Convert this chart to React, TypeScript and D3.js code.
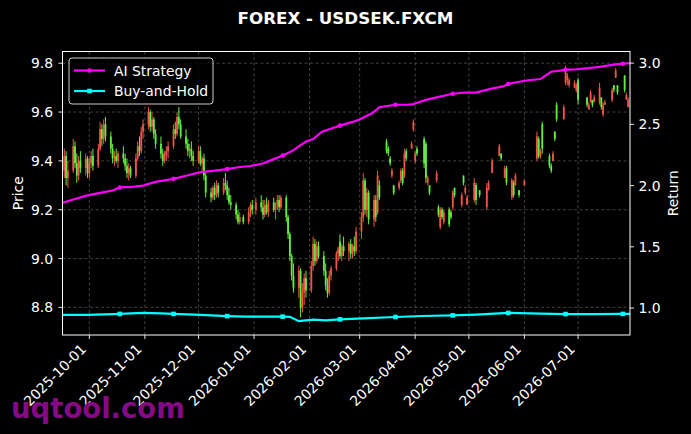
import React from "react";
import * as d3 from "d3";

type Candle = [string, number, number, number, number]; // date, open, high, low, close

const candlesSep: Candle[] = [
  ["2025-09-17", 9.36, 9.45, 9.33, 9.42],
  ["2025-09-18", 9.42, 9.44, 9.3, 9.33],
  ["2025-09-19", 9.33, 9.4, 9.29, 9.36],
  ["2025-09-22", 9.36, 9.49, 9.35, 9.46],
  ["2025-09-23", 9.46, 9.48, 9.37, 9.39],
  ["2025-09-24", 9.39, 9.43, 9.31, 9.34],
  ["2025-09-25", 9.34, 9.42, 9.32, 9.4],
  ["2025-09-26", 9.4, 9.44, 9.35, 9.37],
  ["2025-09-29", 9.37, 9.43, 9.34, 9.41],
  ["2025-09-30", 9.41, 9.42, 9.33, 9.35],
];
const candlesOct: Candle[] = [
  ["2025-10-01", 9.35, 9.41, 9.33, 9.39],
  ["2025-10-02", 9.39, 9.44, 9.37, 9.42],
  ["2025-10-03", 9.42, 9.45, 9.36, 9.38],
  ["2025-10-06", 9.38, 9.47, 9.37, 9.45],
  ["2025-10-07", 9.45, 9.56, 9.44, 9.53],
  ["2025-10-08", 9.53, 9.55, 9.46, 9.49],
  ["2025-10-09", 9.49, 9.57, 9.47, 9.55],
  ["2025-10-10", 9.55, 9.58, 9.48, 9.5],
  ["2025-10-13", 9.5, 9.52, 9.43, 9.45],
  ["2025-10-14", 9.45, 9.47, 9.39, 9.41],
  ["2025-10-15", 9.41, 9.44, 9.38, 9.42],
  ["2025-10-16", 9.42, 9.45, 9.39, 9.4],
  ["2025-10-17", 9.4, 9.44, 9.37, 9.43],
  ["2025-10-20", 9.43, 9.46, 9.39, 9.41],
  ["2025-10-21", 9.41, 9.43, 9.36, 9.38],
  ["2025-10-22", 9.38, 9.41, 9.33, 9.35],
  ["2025-10-23", 9.35, 9.39, 9.32, 9.37],
  ["2025-10-24", 9.37, 9.38, 9.33, 9.34],
  ["2025-10-27", 9.34, 9.43, 9.33, 9.41],
  ["2025-10-28", 9.41, 9.48, 9.4, 9.46],
  ["2025-10-29", 9.46, 9.5, 9.42, 9.44],
  ["2025-10-30", 9.44, 9.54, 9.43, 9.52],
  ["2025-10-31", 9.52, 9.57, 9.49, 9.55],
];
const candlesNov: Candle[] = [
  ["2025-11-03", 9.55, 9.62, 9.53, 9.6],
  ["2025-11-04", 9.6, 9.61, 9.52, 9.54],
  ["2025-11-05", 9.54, 9.6, 9.52, 9.57],
  ["2025-11-06", 9.57, 9.58, 9.49, 9.51],
  ["2025-11-07", 9.51, 9.53, 9.45, 9.47],
  ["2025-11-10", 9.47, 9.5, 9.41, 9.43],
  ["2025-11-11", 9.43, 9.45, 9.38, 9.4],
  ["2025-11-12", 9.4, 9.44, 9.39, 9.42],
  ["2025-11-13", 9.42, 9.46, 9.4, 9.44],
  ["2025-11-14", 9.44, 9.48, 9.41, 9.46],
  ["2025-11-17", 9.46, 9.55, 9.45, 9.53],
  ["2025-11-18", 9.53, 9.56, 9.49, 9.51],
  ["2025-11-19", 9.51, 9.6, 9.5, 9.58],
  ["2025-11-20", 9.58, 9.62, 9.53, 9.55],
  ["2025-11-21", 9.55, 9.57, 9.49, 9.5],
  ["2025-11-24", 9.5, 9.53, 9.45, 9.47],
  ["2025-11-25", 9.47, 9.49, 9.42, 9.44],
  ["2025-11-26", 9.44, 9.47, 9.41, 9.45],
  ["2025-11-27", 9.45, 9.48, 9.4, 9.42],
  ["2025-11-28", 9.42, 9.44, 9.38, 9.4],
];
const candlesDec: Candle[] = [
  ["2025-12-01", 9.4, 9.46, 9.39, 9.44],
  ["2025-12-02", 9.44, 9.46, 9.38, 9.39],
  ["2025-12-03", 9.39, 9.42, 9.36, 9.41],
  ["2025-12-04", 9.41, 9.43, 9.32, 9.34],
  ["2025-12-05", 9.34, 9.35, 9.25, 9.27],
  ["2025-12-08", 9.27, 9.29, 9.23, 9.25],
  ["2025-12-09", 9.25, 9.3, 9.24, 9.29],
  ["2025-12-10", 9.29, 9.31, 9.24, 9.26],
  ["2025-12-11", 9.26, 9.32, 9.25, 9.3],
  ["2025-12-12", 9.3, 9.31, 9.25, 9.27],
  ["2025-12-15", 9.27, 9.33, 9.26, 9.31],
  ["2025-12-16", 9.31, 9.35, 9.28, 9.3],
  ["2025-12-17", 9.3, 9.32, 9.24, 9.26],
  ["2025-12-18", 9.26, 9.29, 9.22, 9.23],
  ["2025-12-19", 9.23, 9.26, 9.2, 9.22],
  ["2025-12-22", 9.22, 9.23, 9.16, 9.18],
  ["2025-12-23", 9.18, 9.2, 9.14, 9.15],
  ["2025-12-24", 9.15, 9.19, 9.14, 9.17],
  ["2025-12-26", 9.17, 9.18, 9.14, 9.15],
  ["2025-12-29", 9.15, 9.21, 9.14, 9.19],
  ["2025-12-30", 9.19, 9.23, 9.17, 9.22],
  ["2025-12-31", 9.22, 9.24, 9.18, 9.2],
];
const candlesJan: Candle[] = [
  ["2026-01-02", 9.2, 9.25, 9.18, 9.23],
  ["2026-01-05", 9.23, 9.26, 9.19, 9.21],
  ["2026-01-06", 9.21, 9.24, 9.16, 9.18],
  ["2026-01-07", 9.18, 9.24, 9.17, 9.22],
  ["2026-01-08", 9.22, 9.25, 9.18, 9.19],
  ["2026-01-09", 9.19, 9.24, 9.17, 9.23],
  ["2026-01-12", 9.23, 9.25, 9.19, 9.2],
  ["2026-01-13", 9.2, 9.23, 9.16, 9.22],
  ["2026-01-14", 9.22, 9.26, 9.2, 9.24],
  ["2026-01-15", 9.24, 9.26, 9.19, 9.21],
  ["2026-01-16", 9.21, 9.26, 9.2, 9.25],
  ["2026-01-19", 9.25, 9.26, 9.15, 9.17],
  ["2026-01-20", 9.17, 9.18, 9.08, 9.1],
  ["2026-01-21", 9.1, 9.11, 8.99, 9.01],
  ["2026-01-22", 9.01, 9.02, 8.91, 8.93],
  ["2026-01-23", 8.93, 8.98, 8.86, 8.88],
  ["2026-01-26", 8.88, 8.97, 8.84, 8.95],
  ["2026-01-27", 8.95, 8.96, 8.76, 8.8],
  ["2026-01-28", 8.8, 8.9, 8.78, 8.86],
  ["2026-01-29", 8.86, 8.94, 8.81, 8.92],
  ["2026-01-30", 8.92, 8.95, 8.84, 8.87],
];
const candlesFeb: Candle[] = [
  ["2026-02-02", 8.87, 8.99, 8.86, 8.97],
  ["2026-02-03", 8.97, 9.09, 8.95, 9.06],
  ["2026-02-04", 9.06, 9.08, 8.97, 8.99],
  ["2026-02-05", 8.99, 9.07, 8.98, 9.05],
  ["2026-02-06", 9.05, 9.07, 9.0, 9.01],
  ["2026-02-09", 9.01, 9.03, 8.93, 8.95],
  ["2026-02-10", 8.95, 8.98, 8.87, 8.89],
  ["2026-02-11", 8.89, 8.92, 8.84, 8.86],
  ["2026-02-12", 8.86, 8.95, 8.85, 8.93],
  ["2026-02-13", 8.93, 8.97, 8.91, 8.96],
  ["2026-02-16", 8.96, 9.03, 8.95, 9.02],
  ["2026-02-17", 9.02, 9.05, 8.99, 9.04],
  ["2026-02-18", 9.07, 9.1, 9.0, 9.01],
  ["2026-02-19", 9.01, 9.06, 8.99, 9.05],
  ["2026-02-20", 9.05, 9.09, 9.01, 9.03],
  ["2026-02-23", 9.03, 9.07, 8.99, 9.06],
  ["2026-02-24", 9.06, 9.08, 9.0, 9.02],
  ["2026-02-25", 9.02, 9.06, 9.0, 9.05],
  ["2026-02-26", 9.05, 9.09, 9.01, 9.03],
  ["2026-02-27", 9.03, 9.13, 9.02, 9.11],
];
const candlesMar: Candle[] = [
  ["2026-03-02", 9.11, 9.19, 9.08, 9.17],
  ["2026-03-03", 9.17, 9.35, 9.15, 9.32],
  ["2026-03-04", 9.32, 9.33, 9.18, 9.2],
  ["2026-03-05", 9.2, 9.29, 9.17, 9.27],
  ["2026-03-06", 9.27, 9.28, 9.14, 9.16],
  ["2026-03-09", 9.16, 9.26, 9.13, 9.24],
  ["2026-03-10", 9.24, 9.26, 9.15, 9.17],
  ["2026-03-11", 9.19, 9.36, 9.18, 9.34],
  ["2026-03-12", 9.3, 9.32, 9.24, 9.25],
  ["2026-03-16", 9.48, 9.49, 9.43, 9.44],
  ["2026-03-17", 9.45, 9.46, 9.42, 9.43],
  ["2026-03-18", 9.41, 9.42, 9.38, 9.39],
  ["2026-03-19", 9.34, 9.37, 9.33, 9.36],
  ["2026-03-20", 9.3, 9.3, 9.26, 9.27],
  ["2026-03-23", 9.29, 9.32, 9.28, 9.31],
  ["2026-03-24", 9.32, 9.37, 9.31, 9.36],
  ["2026-03-25", 9.36, 9.37, 9.3, 9.31],
  ["2026-03-26", 9.34, 9.45, 9.33, 9.43],
  ["2026-03-27", 9.44, 9.45, 9.4, 9.41],
  ["2026-03-30", 9.45, 9.48, 9.45, 9.47],
  ["2026-03-31", 9.53, 9.57, 9.52, 9.56],
];
const candlesApr: Candle[] = [
  ["2026-04-01", 9.4, 9.44, 9.39, 9.43],
  ["2026-04-02", 9.45, 9.46, 9.42, 9.43],
  ["2026-04-06", 9.49, 9.5, 9.37, 9.39],
  ["2026-04-07", 9.47, 9.48, 9.31, 9.33],
  ["2026-04-08", 9.31, 9.34, 9.3, 9.33],
  ["2026-04-09", 9.3, 9.3, 9.26, 9.27],
  ["2026-04-13", 9.32, 9.36, 9.31, 9.35],
  ["2026-04-14", 9.21, 9.22, 9.17, 9.18],
  ["2026-04-15", 9.13, 9.21, 9.12, 9.2],
  ["2026-04-16", 9.2, 9.21, 9.16, 9.17],
  ["2026-04-17", 9.15, 9.2, 9.14, 9.19],
  ["2026-04-20", 9.2, 9.21, 9.13, 9.14],
  ["2026-04-21", 9.19, 9.2, 9.16, 9.17],
  ["2026-04-22", 9.21, 9.28, 9.2, 9.27],
  ["2026-04-23", 9.29, 9.29, 9.25, 9.26],
  ["2026-04-27", 9.22, 9.27, 9.21, 9.26],
  ["2026-04-28", 9.34, 9.34, 9.3, 9.31],
  ["2026-04-29", 9.27, 9.3, 9.26, 9.29],
  ["2026-04-30", 9.22, 9.26, 9.22, 9.25],
];
const candlesMay: Candle[] = [
  ["2026-05-04", 9.24, 9.33, 9.23, 9.31],
  ["2026-05-05", 9.3, 9.31, 9.22, 9.24],
  ["2026-05-07", 9.28, 9.28, 9.25, 9.26],
  ["2026-05-11", 9.21, 9.31, 9.2, 9.29],
  ["2026-05-12", 9.28, 9.32, 9.28, 9.31],
  ["2026-05-14", 9.35, 9.41, 9.35, 9.4],
  ["2026-05-18", 9.42, 9.47, 9.42, 9.46],
  ["2026-05-19", 9.43, 9.43, 9.4, 9.41],
  ["2026-05-21", 9.33, 9.38, 9.33, 9.37],
  ["2026-05-22", 9.37, 9.38, 9.3, 9.31],
  ["2026-05-25", 9.25, 9.33, 9.24, 9.32],
  ["2026-05-26", 9.31, 9.32, 9.25, 9.26],
  ["2026-05-27", 9.3, 9.35, 9.3, 9.34],
  ["2026-05-29", 9.28, 9.28, 9.25, 9.26],
];
const candlesJun: Candle[] = [
  ["2026-06-01", 9.3, 9.32, 9.3, 9.32],
  ["2026-06-08", 9.41, 9.52, 9.4, 9.5],
  ["2026-06-09", 9.49, 9.5, 9.41, 9.42],
  ["2026-06-10", 9.42, 9.45, 9.41, 9.44],
  ["2026-06-11", 9.55, 9.56, 9.43, 9.45],
  ["2026-06-15", 9.42, 9.43, 9.37, 9.38],
  ["2026-06-16", 9.38, 9.39, 9.35, 9.36],
  ["2026-06-17", 9.4, 9.44, 9.4, 9.43],
  ["2026-06-18", 9.52, 9.52, 9.48, 9.49],
  ["2026-06-19", 9.63, 9.64, 9.56, 9.57],
  ["2026-06-23", 9.57, 9.63, 9.57, 9.62],
  ["2026-06-24", 9.72, 9.79, 9.71, 9.77],
  ["2026-06-25", 9.73, 9.76, 9.71, 9.75],
  ["2026-06-26", 9.71, 9.74, 9.7, 9.73],
  ["2026-06-29", 9.7, 9.73, 9.7, 9.72],
  ["2026-06-30", 9.69, 9.72, 9.68, 9.71],
];
const candlesJul: Candle[] = [
  ["2026-07-01", 9.73, 9.74, 9.63, 9.65],
  ["2026-07-06", 9.66, 9.66, 9.62, 9.63],
  ["2026-07-07", 9.61, 9.64, 9.61, 9.63],
  ["2026-07-08", 9.64, 9.69, 9.64, 9.68],
  ["2026-07-09", 9.65, 9.65, 9.62, 9.63],
  ["2026-07-10", 9.64, 9.67, 9.64, 9.66],
  ["2026-07-13", 9.64, 9.72, 9.63, 9.7],
  ["2026-07-14", 9.66, 9.66, 9.61, 9.62],
  ["2026-07-15", 9.59, 9.64, 9.58, 9.63],
  ["2026-07-16", 9.63, 9.65, 9.63, 9.64],
  ["2026-07-20", 9.65, 9.7, 9.64, 9.69],
  ["2026-07-21", 9.71, 9.71, 9.68, 9.69],
  ["2026-07-22", 9.74, 9.78, 9.74, 9.77],
  ["2026-07-23", 9.71, 9.71, 9.67, 9.68],
  ["2026-07-27", 9.75, 9.75, 9.68, 9.69],
  ["2026-07-28", 9.65, 9.68, 9.65, 9.67],
  ["2026-07-29", 9.62, 9.66, 9.62, 9.65],
];
const candleMonths: Candle[][] = [
  candlesSep, candlesOct, candlesNov, candlesDec, candlesJan, candlesFeb,
  candlesMar, candlesApr, candlesMay, candlesJun, candlesJul,
];

const aiDates = [
  "2025-09-16", "2025-09-23", "2025-09-30", "2025-10-07", "2025-10-14", "2025-10-18",
  "2025-10-25", "2025-10-31", "2025-11-07", "2025-11-17", "2025-11-24", "2025-12-02",
  "2025-12-09", "2025-12-17", "2025-12-23", "2025-12-30", "2026-01-06", "2026-01-11",
  "2026-01-17", "2026-01-22", "2026-01-26", "2026-01-30", "2026-02-03", "2026-02-08",
  "2026-02-14", "2026-02-18", "2026-02-25", "2026-03-01", "2026-03-05", "2026-03-08",
  "2026-03-12", "2026-03-21", "2026-03-28", "2026-03-31", "2026-04-03", "2026-04-07",
  "2026-04-13", "2026-04-22", "2026-04-29", "2026-05-05", "2026-05-13", "2026-05-20",
  "2026-05-23", "2026-05-26", "2026-06-03", "2026-06-10", "2026-06-13", "2026-06-16",
  "2026-06-24", "2026-06-30", "2026-07-07", "2026-07-13", "2026-07-22", "2026-07-26",
  "2026-07-30",
];
const aiValues = [
  1.86, 1.89, 1.92, 1.94, 1.96, 1.985,
  1.99, 2.0, 2.03, 2.055, 2.08, 2.11,
  2.12, 2.135, 2.15, 2.16, 2.18, 2.21,
  2.245, 2.28, 2.32, 2.36, 2.38, 2.44,
  2.47, 2.49, 2.52, 2.54, 2.57, 2.59,
  2.64, 2.66, 2.66, 2.665, 2.68, 2.7,
  2.72, 2.75, 2.76, 2.76, 2.79, 2.81,
  2.83, 2.84, 2.86, 2.87, 2.9, 2.93,
  2.945, 2.95, 2.96, 2.97, 2.99, 2.995,
  3.0,
];

const bhDates = [
  "2025-09-16", "2025-09-30", "2025-10-14", "2025-10-18", "2025-10-31", "2025-11-10",
  "2025-11-17", "2025-12-02", "2025-12-17", "2025-12-27", "2026-01-10", "2026-01-17",
  "2026-01-21", "2026-01-26", "2026-02-03", "2026-02-10", "2026-02-18", "2026-03-03",
  "2026-03-21", "2026-04-05", "2026-04-22", "2026-05-05", "2026-05-18", "2026-05-23",
  "2026-06-10", "2026-06-24", "2026-07-10", "2026-07-26", "2026-07-30",
];
const bhValues = [
  0.944, 0.945, 0.95, 0.952, 0.96, 0.956,
  0.952, 0.944, 0.934, 0.93, 0.93, 0.93,
  0.928, 0.893, 0.905, 0.9, 0.908, 0.915,
  0.927, 0.935, 0.94, 0.947, 0.956, 0.96,
  0.955, 0.951, 0.95, 0.952, 0.952,
];

const markerDates = [
  "2025-10-18", "2025-11-17", "2025-12-17", "2026-01-17", "2026-02-18",
  "2026-03-21", "2026-04-22", "2026-05-23", "2026-06-24", "2026-07-26",
];

const priceTicks = [8.8, 9.0, 9.2, 9.4, 9.6, 9.8];
const returnTicks = [1.0, 1.5, 2.0, 2.5, 3.0];
const monthTicks = [
  "2025-10-01", "2025-11-01", "2025-12-01", "2026-01-01", "2026-02-01",
  "2026-03-01", "2026-04-01", "2026-05-01", "2026-06-01", "2026-07-01",
];

const W = 691;
const H = 434;
const L = 62.5, R = 630, T = 51.5, B = 335;
const FONT = "DejaVu Sans, Liberation Sans, sans-serif";
const UP = "#f0554a";
const DOWN = "#62ee3e";
const AI_COLOR = "#ff00ff";
const BH_COLOR = "#00ffff";

export default function App() {
  const parse = d3.utcParse("%Y-%m-%d");
  const p = (s: string) => parse(s) as Date;

  const x = d3.scaleUtc()
    .domain(d3.extent(aiDates, p) as [Date, Date])
    .range([L, R]);
  const yP = d3.scaleLinear().domain([8.687, 9.848]).range([B, T]);
  const yR = d3.scaleLinear().domain([0.78, 3.095]).range([B, T]);

  const candles = candleMonths.flat();
  const aiPts = aiDates.map((d, i) => ({ d: p(d), v: aiValues[i], s: d }));
  const bhPts = bhDates.map((d, i) => ({ d: p(d), v: bhValues[i], s: d }));
  const lineGen = d3.line<{ d: Date; v: number }>()
    .x((q) => x(q.d))
    .y((q) => yR(q.v));

  const aiMarks = aiPts.filter((q) => markerDates.includes(q.s));
  const bhMarks = bhPts.filter((q) => markerDates.includes(q.s));
  const fmt = d3.utcFormat("%Y-%m-%d");

  return (
    <svg width={W} height={H} style={{ position: "absolute", left: 0, top: 0, display: "block" }}
      fontFamily={FONT}>
      <rect x={0} y={0} width={W} height={H} fill="#000" />
      <defs>
        <clipPath id="plotclip">
          <rect x={L} y={T} width={R - L} height={B - T} />
        </clipPath>
      </defs>
      {/* grid */}
      <g stroke="#5c5c5c" strokeWidth={0.7} strokeDasharray="3,2.5">
        {monthTicks.map((m) => (
          <line key={m} x1={x(p(m))} x2={x(p(m))} y1={T} y2={B} />
        ))}
        {priceTicks.map((t) => (
          <line key={t} x1={L} x2={R} y1={yP(t)} y2={yP(t)} />
        ))}
      </g>
      {/* candles */}
      <g clipPath="url(#plotclip)">
        {candles.map(([d, o, h, l, c]) => {
          const cx = x(p(d));
          const col = c >= o ? UP : DOWN;
          const top = yP(Math.max(o, c));
          const bot = yP(Math.min(o, c));
          return (
            <g key={d}>
              <line x1={cx} x2={cx} y1={yP(h)} y2={yP(l)} stroke={col} strokeWidth={1} />
              <rect x={cx - 0.9} y={top} width={1.8} height={Math.max(bot - top, 0.8)} fill={col} />
            </g>
          );
        })}
      </g>
      {/* lines */}
      <g clipPath="url(#plotclip)">
        <path d={lineGen(aiPts) || ""} fill="none" stroke={AI_COLOR} strokeWidth={2.2} />
        {aiMarks.map((q) => (
          <circle key={q.s} cx={x(q.d)} cy={yR(q.v)} r={2.3} fill={AI_COLOR} />
        ))}
        <path d={lineGen(bhPts) || ""} fill="none" stroke={BH_COLOR} strokeWidth={2.2} />
        {bhMarks.map((q) => (
          <rect key={q.s} x={x(q.d) - 2.3} y={yR(q.v) - 2.3} width={4.6} height={4.6} fill={BH_COLOR} />
        ))}
      </g>
      {/* frame */}
      <rect x={L} y={T} width={R - L} height={B - T} fill="none" stroke="#fff" strokeWidth={1} />
      {/* left axis */}
      {priceTicks.map((t) => (
        <g key={t}>
          <line x1={L - 4} x2={L} y1={yP(t)} y2={yP(t)} stroke="#fff" strokeWidth={0.9} />
          <text x={L - 9.5} y={yP(t)} dy="0.36em" textAnchor="end" fill="#fff" fontSize={13.9}>
            {t.toFixed(1)}
          </text>
        </g>
      ))}
      {/* right axis */}
      {returnTicks.map((t) => (
        <g key={t}>
          <line x1={R} x2={R + 4} y1={yR(t)} y2={yR(t)} stroke="#fff" strokeWidth={0.9} />
          <text x={R + 8.5} y={yR(t)} dy="0.36em" textAnchor="start" fill="#fff" fontSize={13.9}>
            {t.toFixed(1)}
          </text>
        </g>
      ))}
      {/* x axis */}
      {monthTicks.map((m) => {
        const tx = x(p(m));
        return (
          <g key={m}>
            <line x1={tx} x2={tx} y1={B} y2={B + 4} stroke="#fff" strokeWidth={0.9} />
            <text transform={`translate(${tx - 2.4},${B + 15})) rotate(-45)`.replace("))", ")")} textAnchor="end"
              fill="#fff" fontSize={13.9}>
              {fmt(p(m))}
            </text>
          </g>
        );
      })}
      {/* watermark */}
      <text x={11} y={418} fill="#850a85" fontSize={27.5} fontWeight="bold">uqtool.com</text>
      {/* axis labels */}
      <text transform={`translate(23,${(T + B) / 2}) rotate(-90)`} textAnchor="middle" fill="#fff" fontSize={13.9}>
        Price
      </text>
      <text transform={`translate(678,${(T + B) / 2}) rotate(-90)`} textAnchor="middle" fill="#fff" fontSize={13.9}>
        Return
      </text>
      {/* title */}
      <text x={345.5} y={24} textAnchor="middle" fill="#fff" fontSize={16.7} fontWeight="bold">
        FOREX - USDSEK.FXCM
      </text>
      {/* legend */}
      <g>
        <rect x={69} y={58} width={144} height={46} rx={3} fill="#000" fillOpacity={0.8} stroke="#cccccc" strokeWidth={1} />
        <line x1={74} x2={105} y1={70.5} y2={70.5} stroke={AI_COLOR} strokeWidth={2.2} />
        <circle cx={89.5} cy={70.5} r={2.3} fill={AI_COLOR} />
        <text x={114} y={70.5} dy="0.36em" fill="#fff" fontSize={13.9}>AI Strategy</text>
        <line x1={74} x2={105} y1={91} y2={91} stroke={BH_COLOR} strokeWidth={2.2} />
        <rect x={89.5 - 2.3} y={91 - 2.3} width={4.6} height={4.6} fill={BH_COLOR} />
        <text x={114} y={91} dy="0.36em" fill="#fff" fontSize={13.9}>Buy-and-Hold</text>
      </g>
    </svg>
  );
}
